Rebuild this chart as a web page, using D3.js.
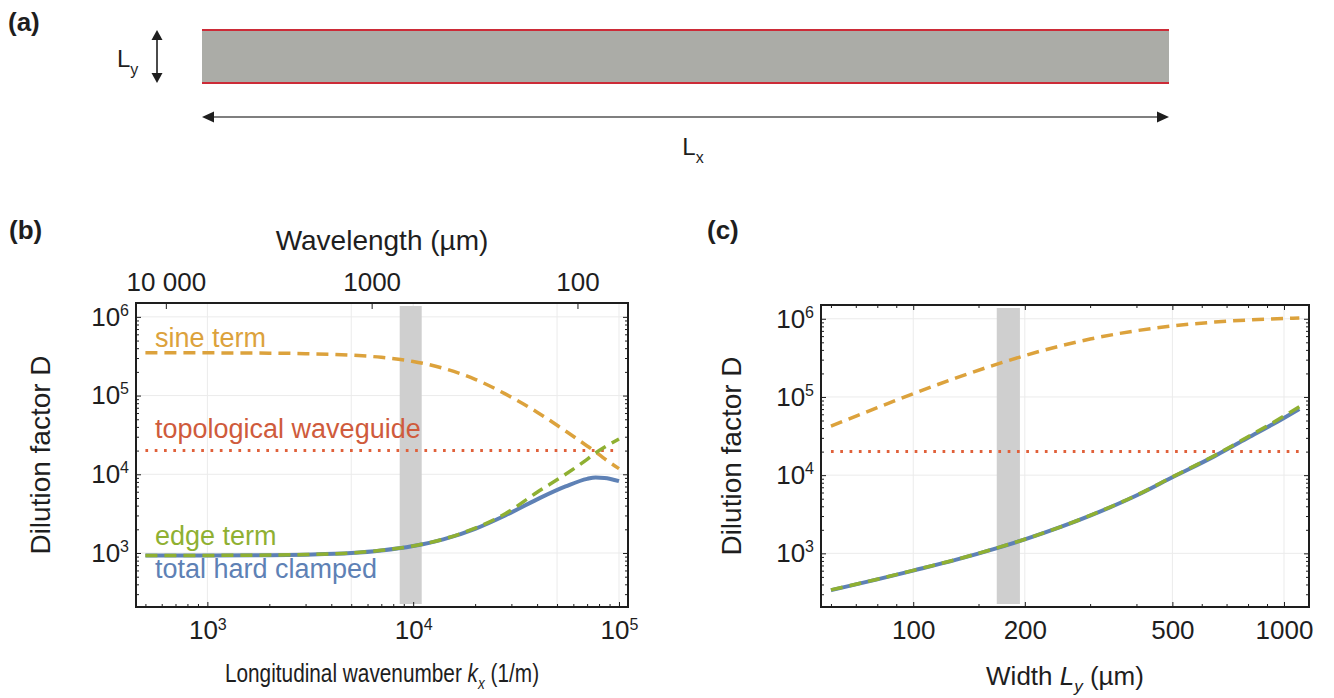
<!DOCTYPE html>
<html>
<head>
<meta charset="utf-8">
<script src="https://d3js.org/d3.v7.min.js"></script>
<style>
  body { margin: 0; background: #fff; }
  svg { display: block; font-family: "Liberation Sans", Arial, Helvetica, sans-serif; }
</style>
</head>
<body>
<div id="fig"></div>
<script>
// ---------- data ----------
// (b) sweep over longitudinal wavenumber k_x (1/m)
var kx      = [500, 1000, 2000, 3000, 5000, 7000, 10000, 14000, 20000, 28000, 40000, 55000, 70000, 77000, 85000, 100000];
var sineB   = [349700, 349000, 346000, 341000, 326000, 306000, 271000, 222500, 161000, 105000, 61600, 35500, 22900, 19300, 15800, 11800];
var edgeB   = [930, 932, 940, 955, 1000, 1080, 1230, 1500, 2070, 3150, 5900, 10000, 15500, 18700, 22000, 28000];
var totalB  = [928, 930, 937, 952, 997, 1075, 1225, 1490, 2030, 3000, 4800, 7000, 8750, 9100, 9000, 8200];

// (c) sweep over width L_y (um)
var ly      = [60, 80, 100, 130, 170, 200, 250, 300, 400, 500, 650, 800, 1000, 1100];
var sineC   = [42300, 73000, 110000, 174000, 267000, 338500, 450800, 550000, 704000, 808500, 906800, 964400, 1009000, 1024000];
var edgeC   = [341, 467, 605, 829, 1190, 1516, 2187, 3054, 5528, 9500, 17855, 31024, 57000, 75000];
var totalC  = [338, 464, 602, 825, 1185, 1509, 2176, 3037, 5485, 9390, 17520, 30060, 54000, 70000];

// topological waveguide reference level
var waveguideD = 20000;

// shaded ranges
var bandB = [8600, 11000];
var bandC = [168, 194];

// ticks
var yMajor = [1e3, 1e4, 1e5, 1e6];
var yMinor = [300, 400, 500, 600, 700, 800, 900, 2000, 3000, 4000, 5000, 6000, 7000, 8000, 9000,
              20000, 30000, 40000, 50000, 60000, 70000, 80000, 90000,
              200000, 300000, 400000, 500000, 600000, 700000, 800000, 900000];
var kMajor = [1e3, 1e4, 1e5];
var kMinor = [500, 600, 700, 800, 900, 2000, 3000, 4000, 5000, 6000, 7000, 8000, 9000,
              20000, 30000, 40000, 50000, 60000, 70000, 80000, 90000];
var wavelengths = [10000, 1000, 100];
var wavelengthLabels = ["10 000", "1000", "100"];
var lyMajor = [100, 200, 500, 1000];
var lyMinor = [60, 70, 80, 90, 150, 300, 400, 600, 700, 800, 900];
var gridK = [1e3, 5e3, 1e4, 5e4, 1e5];
var gridLy = [100, 200, 500, 1000];

// ---------- drawing ----------
var W = 1334, H = 698;
var svg = d3.select("#fig").append("svg").attr("width", W).attr("height", H);

var colSine = "#dca23c", colEdge = "#8fb032", colTotal = "#5e81b5", colWave = "#e0603a";
var ink = "#1e1e1e";

function panelLabel(txt, x, y) {
    svg.append("text").attr("x", x).attr("y", y)
        .style("font-weight", "bold").style("font-size", "26px").attr("fill", ink)
        .text(txt);
}

// ----- (a) sketch of the strip -----
panelLabel("(a)", 8, 31);
svg.append("rect").attr("x", 202).attr("y", 30).attr("width", 967).attr("height", 53).attr("fill", "#abaca7");
[30, 83].forEach(function(yy) {
    svg.append("line").attr("x1", 202).attr("x2", 1169).attr("y1", yy).attr("y2", yy)
        .attr("stroke", "#cc2b37").attr("stroke-width", 2.2);
});
// L_y arrow
svg.append("line").attr("x1", 157).attr("x2", 157).attr("y1", 38).attr("y2", 76).attr("stroke", ink).attr("stroke-width", 1.6);
svg.append("path").attr("d", "M157,30 L151.5,40 L162.5,40 Z").attr("fill", ink);
svg.append("path").attr("d", "M157,83 L151.5,73 L162.5,73 Z").attr("fill", ink);
var tLy = svg.append("text").attr("x", 117).attr("y", 67).style("font-size", "24px").attr("fill", ink);
tLy.append("tspan").text("L");
tLy.append("tspan").attr("dy", 8).style("font-size", "16px").text("y");
// L_x arrow
svg.append("line").attr("x1", 210).attr("x2", 1161).attr("y1", 117).attr("y2", 117).attr("stroke", "#555").attr("stroke-width", 1.6);
svg.append("path").attr("d", "M202,117 L214,111.5 L214,122.5 Z").attr("fill", ink);
svg.append("path").attr("d", "M1169,117 L1157,111.5 L1157,122.5 Z").attr("fill", ink);
var tLx = svg.append("text").attr("x", 693).attr("y", 155).attr("text-anchor", "middle").style("font-size", "24px").attr("fill", ink);
tLx.append("tspan").text("L");
tLx.append("tspan").attr("dy", 8).style("font-size", "16px").text("x");

// ----- shared helpers for (b) and (c) -----
function powerLabel(sel) {
    sel.each(function(d) {
        var t = d3.select(this).text(null);
        t.append("tspan").text("10");
        t.append("tspan").attr("dy", "-0.62em").style("font-size", "16px").text(Math.round(Math.log10(d)));
    });
}

function styleAxis(g) {
    g.select(".domain").remove();
    g.attr("font-family", null).attr("font-size", null);
    g.selectAll(".tick line").attr("stroke", ink);
    g.selectAll(".tick text").attr("fill", ink).style("font-size", "26px");
}

function drawPanel(p) {
    var x = d3.scaleLog().domain(p.xDomain).range([p.left, p.right]);
    var y = d3.scaleLog().domain([206, 1.5e6]).range([p.bottom, p.top]);
    var g = svg.append("g");

    // grid
    g.selectAll("line.gx").data(p.gridX).enter().append("line").attr("class", "gx")
        .attr("x1", function(d) { return x(d); }).attr("x2", function(d) { return x(d); })
        .attr("y1", p.top).attr("y2", p.bottom)
        .attr("stroke", "#ebebeb").attr("stroke-width", 1);
    g.selectAll("line.gy").data(yMajor).enter().append("line").attr("class", "gy")
        .attr("x1", p.left).attr("x2", p.right)
        .attr("y1", function(d) { return y(d); }).attr("y2", function(d) { return y(d); })
        .attr("stroke", "#ebebeb").attr("stroke-width", 1);

    // shaded band
    g.append("rect")
        .attr("x", x(p.band[0])).attr("width", x(p.band[1]) - x(p.band[0]))
        .attr("y", p.top + 3).attr("height", p.bottom - p.top - 6)
        .attr("fill", "#cfcfcf");

    var line = d3.line()
        .x(function(d) { return x(d[0]); })
        .y(function(d) { return y(d[1]); })
        .curve(d3.curveMonotoneX);
    function pairs(xs, ys) { return xs.map(function(v, i) { return [v, ys[i]]; }); }

    // topological waveguide level
    g.append("line")
        .attr("x1", x(p.xs[0])).attr("x2", x(p.xs[p.xs.length - 1]))
        .attr("y1", y(waveguideD)).attr("y2", y(waveguideD))
        .attr("stroke", colWave).attr("stroke-width", 3).attr("stroke-dasharray", "2.7 6.6");

    g.append("path").datum(pairs(p.xs, p.sine)).attr("d", line)
        .attr("fill", "none").attr("stroke", colSine).attr("stroke-width", 3.5).attr("stroke-dasharray", "12 7");
    g.append("path").datum(pairs(p.xs, p.total)).attr("d", line)
        .attr("fill", "none").attr("stroke", colTotal).attr("stroke-width", 4);
    g.append("path").datum(pairs(p.xs, p.edge)).attr("d", line)
        .attr("fill", "none").attr("stroke", colEdge).attr("stroke-width", 3.5).attr("stroke-dasharray", "12 7");

    // axes: ticks point inward like the original frame
    g.append("g").attr("transform", "translate(0," + p.bottom + ")")
        .call(d3.axisBottom(x).tickValues(p.xMajor).tickSize(-5).tickPadding(14).tickFormat(p.xFormat))
        .call(styleAxis).call(function(a) { if (p.xPower) a.selectAll(".tick text").call(powerLabel); });
    g.append("g").attr("transform", "translate(0," + p.bottom + ")")
        .call(d3.axisBottom(x).tickValues(p.xMinor).tickSize(-3).tickFormat(""))
        .call(styleAxis);

    if (p.topAxis) {
        p.topAxis(g, x);
    } else {
        g.append("g").attr("transform", "translate(0," + p.top + ")")
            .call(d3.axisTop(x).tickValues(p.xMajor).tickSize(-5).tickFormat(""))
            .call(styleAxis);
        g.append("g").attr("transform", "translate(0," + p.top + ")")
            .call(d3.axisTop(x).tickValues(p.xMinor).tickSize(-3).tickFormat(""))
            .call(styleAxis);
    }

    g.append("g").attr("transform", "translate(" + p.left + ",0)")
        .call(d3.axisLeft(y).tickValues(yMajor).tickSize(-5).tickPadding(7))
        .call(styleAxis).call(function(a) { a.selectAll(".tick text").call(powerLabel); });
    g.append("g").attr("transform", "translate(" + p.left + ",0)")
        .call(d3.axisLeft(y).tickValues(yMinor).tickSize(-3).tickFormat(""))
        .call(styleAxis);
    g.append("g").attr("transform", "translate(" + p.right + ",0)")
        .call(d3.axisRight(y).tickValues(yMajor).tickSize(-5).tickFormat(""))
        .call(styleAxis);
    g.append("g").attr("transform", "translate(" + p.right + ",0)")
        .call(d3.axisRight(y).tickValues(yMinor).tickSize(-3).tickFormat(""))
        .call(styleAxis);

    // frame
    g.append("rect").attr("x", p.left).attr("y", p.top)
        .attr("width", p.right - p.left).attr("height", p.bottom - p.top)
        .attr("fill", "none").attr("stroke", ink).attr("stroke-width", 2);

    // y title
    g.append("text")
        .attr("transform", "translate(" + p.yTitleX + "," + ((p.top + p.bottom) / 2) + ") rotate(-90)")
        .attr("text-anchor", "middle").style("font-size", "28px").attr("fill", ink)
        .text("Dilution factor D");

    // x title (the k_x title in the original is set narrower)
    var xt = g.append("text")
        .attr("transform", "translate(" + ((p.left + p.right) / 2) + "," + p.xTitleY + ") scale(" + p.xTitleSquash + ",1)")
        .attr("text-anchor", "middle").style("font-size", "26px").attr("fill", ink);
    xt.append("tspan").text(p.xTitle[0]);
    xt.append("tspan").style("font-style", "italic").text(p.xTitle[1]);
    xt.append("tspan").attr("dy", 7).style("font-size", "17px").style("font-style", "italic").text(p.xTitle[2]);
    xt.append("tspan").attr("dy", -7).text(p.xTitle[3]);
    return g;
}

// ----- (b) -----
panelLabel("(b)", 9, 239);
drawPanel({
    left: 136, right: 628, top: 303, bottom: 607,
    xDomain: [450, 110600],
    xs: kx, sine: sineB, edge: edgeB, total: totalB,
    band: bandB, gridX: gridK,
    xMajor: kMajor, xMinor: kMinor, xPower: true, xFormat: null,
    yTitleX: 50, xTitleY: 682, xTitleSquash: 0.8,
    xTitle: ["Longitudinal wavenumber ", "k", "x", " (1/m)"],
    topAxis: function(g, x) {
        // wavelength = 2*pi/k, in um
        var kOfLambda = wavelengths.map(function(l) { return 2 * Math.PI * 1e6 / l; });
        g.append("g").attr("transform", "translate(0,303)")
            .call(d3.axisTop(x).tickValues(kOfLambda).tickSize(-6).tickPadding(12)
                .tickFormat(function(d, i) { return wavelengthLabels[i]; }))
            .call(styleAxis);
        g.append("text").attr("x", 382).attr("y", 250).attr("text-anchor", "middle")
            .style("font-size", "28px").attr("fill", ink).text("Wavelength (µm)");
    }
});

// legend labels sit inside panel (b)
[["sine term", colSine, 347], ["topological waveguide", "#cf5b3c", 438],
 ["edge term", colEdge, 545], ["total hard clamped", colTotal, 578]].forEach(function(l) {
    svg.append("text").attr("x", 155).attr("y", l[2]).attr("fill", l[1])
        .style("font-size", "27px").text(l[0]);
});

// ----- (c) -----
panelLabel("(c)", 707, 239);
drawPanel({
    left: 821, right: 1309, top: 305, bottom: 607,
    xDomain: [56.4, 1168],
    xs: ly, sine: sineC, edge: edgeC, total: totalC,
    band: bandC, gridX: gridLy,
    xMajor: lyMajor, xMinor: lyMinor, xPower: false, xFormat: d3.format("d"),
    yTitleX: 741, xTitleY: 685, xTitleSquash: 1,
    xTitle: ["Width ", "L", "y", " (µm)"]
});
</script>
</body>
</html>
